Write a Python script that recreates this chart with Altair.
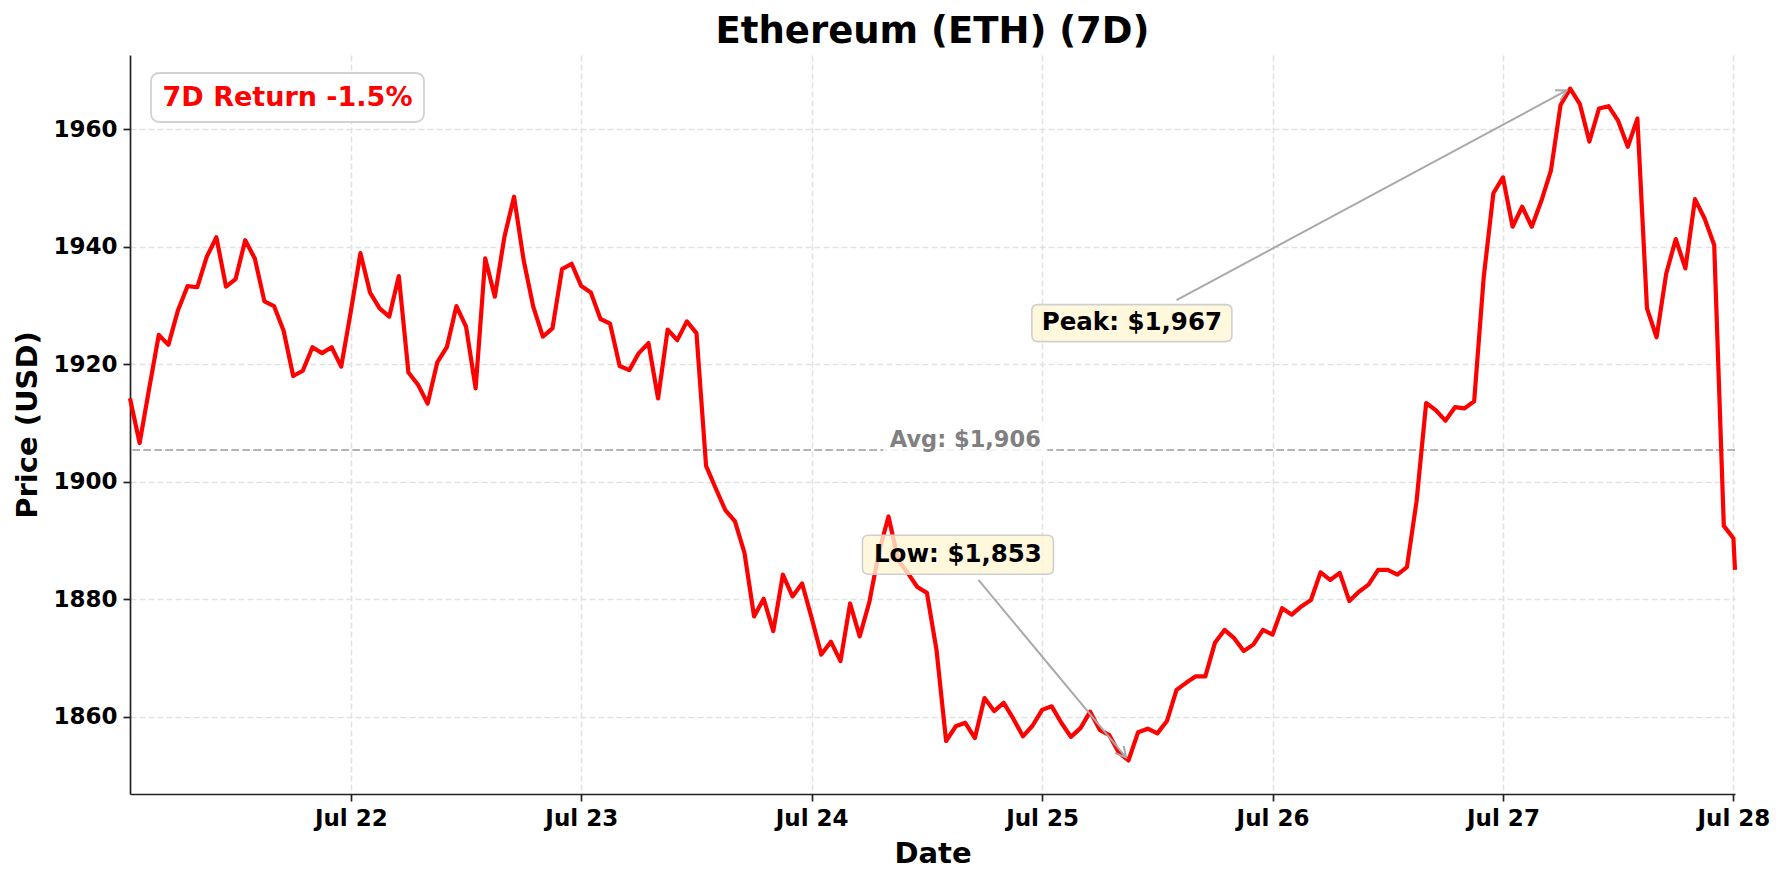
import math
import altair as alt
import pandas as pd

# ---------------- data ----------------
START = "2023-07-21 01:00"
LAST_TIME = "2023-07-28 00:10"
PRICES = [
    1914.2, 1906.6, 1915.9, 1925.0, 1923.3, 1929.2, 1933.3, 1933.1, 1938.3, 1941.6,
    1933.2, 1934.5, 1941.1, 1938.0, 1930.7, 1929.9, 1925.7, 1918.0, 1918.9, 1922.9,
    1921.9, 1922.9, 1919.6, 1929.0, 1938.9, 1932.2, 1929.5, 1928.1, 1935.0, 1918.6,
    1916.5, 1913.3, 1920.3, 1922.9, 1929.9, 1926.4, 1915.9, 1938.0, 1931.5, 1941.7,
    1948.5, 1937.7, 1929.8, 1924.7, 1926.1, 1936.2, 1937.1, 1933.3, 1932.2, 1927.7,
    1926.9, 1919.7, 1919.0, 1921.9, 1923.6, 1914.2, 1925.9, 1924.1, 1927.3, 1925.3,
    1902.7, 1898.9, 1895.2, 1893.3, 1887.9, 1877.1, 1880.1, 1874.6, 1884.2, 1880.5,
    1882.7, 1876.8, 1870.6, 1872.8, 1869.5, 1879.3, 1873.7, 1879.5, 1888.0, 1894.1,
    1886.7, 1884.5, 1882.1, 1881.1, 1871.4, 1855.9, 1858.4, 1859.0, 1856.4, 1863.2,
    1861.0, 1862.4, 1859.7, 1856.7, 1858.5, 1861.2, 1861.8, 1859.0, 1856.6, 1858.1,
    1860.9, 1857.8, 1856.9, 1853.9, 1852.6, 1857.4, 1858.0, 1857.2, 1859.3, 1864.6,
    1865.8, 1866.9, 1866.9, 1872.6, 1874.8, 1873.4, 1871.2, 1872.3, 1874.8, 1874.0,
    1878.5, 1877.4, 1878.8, 1879.9, 1884.6, 1883.3, 1884.5, 1879.7, 1881.3, 1882.5,
    1885.0, 1885.0, 1884.2, 1885.5, 1896.7, 1913.4, 1912.2, 1910.4, 1912.7, 1912.5,
    1913.7, 1934.9, 1949.1, 1951.8, 1943.4, 1946.8, 1943.4, 1947.8, 1953.0, 1964.1,
    1966.9, 1964.3, 1957.9, 1963.5, 1963.9, 1961.4, 1957.0, 1961.8, 1929.5, 1924.6,
    1935.4, 1941.3, 1936.3, 1948.1, 1944.8, 1940.3, 1892.5, 1890.4,
]
LAST_PRICE = 1885.0

TICK_DATES = ["2023-07-22", "2023-07-23", "2023-07-24", "2023-07-25",
              "2023-07-26", "2023-07-27", "2023-07-28"]
Y_TICKS = [1860, 1880, 1900, 1920, 1940, 1960]

TITLE = "Ethereum (ETH) (7D)"
RETURN_LABEL = "7D Return -1.5%"
AVG_LABEL = "Avg: $1,906"
AVG_LABEL_TIME = "2023-07-24 16:00"
ANN_LABELS = ["Peak: $1,967", "Low: $1,853"]
ANN_TEXT_TIME = ["2023-07-25 09:21", "2023-07-24 15:14"]
ANN_TEXT_PRICE = [1927.0, 1887.6]
ANN_START_TIME = ["2023-07-25 14:00", "2023-07-24 17:22"]
ANN_START_PRICE = [1930.9, 1883.3]

# ---------------- layout / style ----------------
W, H = 1605, 739
FONT = "DejaVu Sans"
RED = "#ff0000"
ARROW = "#a9a9a9"

times = list(pd.date_range(START, periods=len(PRICES), freq="h")) + [pd.Timestamp(LAST_TIME)]
vals = PRICES + [LAST_PRICE]
iso = lambda ts: pd.Timestamp(ts).strftime("%Y-%m-%dT%H:%M:%S")
df = pd.DataFrame({"t": [iso(t) for t in times], "p": vals})

avg = sum(vals) / len(vals)
lo, hi = min(vals), max(vals)
pad = (hi - lo) * 0.05
ymin, ymax = lo - pad, hi + pad


def dt(ts):
    ts = pd.Timestamp(ts)
    return alt.DateTime(year=ts.year, month=ts.month, date=ts.day,
                        hours=ts.hour, minutes=ts.minute)


xs = alt.Scale(domain=[dt(times[0]), dt(times[-1])], nice=False)
ys = alt.Scale(domain=[ymin, ymax], nice=False, zero=False)

xaxis = alt.Axis(values=[dt(d) for d in TICK_DATES], format="%b %d", title="Date",
                 labelFont=FONT, labelFontSize=23, labelFontWeight="bold", labelColor="black",
                 titleFont=FONT, titleFontSize=29, titleFontWeight="bold", titleColor="black",
                 titlePadding=9, labelPadding=6, tickSize=7, tickWidth=1.7, tickColor="#222222",
                 domainColor="#222222", domainWidth=1.7, grid=True, gridColor="#e2e2e2",
                 gridDash=[6, 3], gridWidth=1.6, labelFlush=False)
yaxis = alt.Axis(values=Y_TICKS, format="d", title="Price (USD)",
                 labelFont=FONT, labelFontSize=23, labelFontWeight="bold", labelColor="black",
                 titleFont=FONT, titleFontSize=29, titleFontWeight="bold", titleColor="black",
                 titlePadding=10, labelPadding=6, tickSize=7, tickWidth=1.7, tickColor="#222222",
                 domainColor="#222222", domainWidth=1.7, grid=True, gridColor="#e2e2e2",
                 gridDash=[6, 3], gridWidth=1.6)


def X(f):
    return alt.X(f, type="temporal", scale=xs, axis=xaxis)


def Y(f):
    return alt.Y(f, type="quantitative", scale=ys, axis=yaxis)


# pixel helpers (for arrow head orientation only)
T0, T1 = times[0].value, times[-1].value


def to_px(ts, p):
    ts = pd.Timestamp(ts)
    return ((ts.value - T0) / (T1 - T0) * W, (ymax - p) / (ymax - ymin) * H)


def from_px(x, y):
    return pd.Timestamp(int(T0 + x / W * (T1 - T0))), ymax - y / H * (ymax - ymin)


def rrect(w_px, h_px, r_px):
    s = w_px / 2.0
    w, h, r = 1.0, h_px / w_px, r_px / s
    f = lambda v: f"{v:.4f}"
    path = (f"M{f(-w + r)},{f(-h)} L{f(w - r)},{f(-h)} Q{f(w)},{f(-h)} {f(w)},{f(-h + r)} "
            f"L{f(w)},{f(h - r)} Q{f(w)},{f(h)} {f(w - r)},{f(h)} "
            f"L{f(-w + r)},{f(h)} Q{f(-w)},{f(h)} {f(-w)},{f(h - r)} "
            f"L{f(-w)},{f(-h + r)} Q{f(-w)},{f(-h)} {f(-w + r)},{f(-h)} Z")
    return path, w_px * w_px


# ---------------- annotations ----------------
imax = max(range(len(vals)), key=lambda i: vals[i])
imin = min(range(len(vals)), key=lambda i: vals[i])
targets = [(times[imax], vals[imax]), (times[imin], vals[imin])]
arrows = []
for k in range(2):
    sx, sy = to_px(ANN_START_TIME[k], ANN_START_PRICE[k])
    tx, ty = to_px(*targets[k])
    dx, dy = tx - sx, ty - sy
    L = math.hypot(dx, dy)
    ux, uy = dx / L, dy / L
    tipx, tipy = tx - ux * 4, ty - uy * 4
    tip_t, tip_p = from_px(tipx, tipy)
    ang = math.degrees(math.atan2(dy, dx)) % 360
    arrows.append({"t0": iso(ANN_START_TIME[k]), "p0": ANN_START_PRICE[k],
                   "t1": iso(tip_t), "p1": tip_p, "ang": ang})
arr_df = pd.DataFrame(arrows)
ann_df = pd.DataFrame({"t": [iso(t) for t in ANN_TEXT_TIME], "p": ANN_TEXT_PRICE,
                       "label": ANN_LABELS})

line = alt.Chart(df).mark_line(color=RED, strokeWidth=4.2, strokeJoin="round").encode(
    x=X("t"), y=Y("p"))

avg_rule = alt.Chart(pd.DataFrame({"p": [avg]})).mark_rule(
    color="#b4b4b4", strokeWidth=2, strokeDash=[7.7, 3.3]).encode(y=Y("p"))

avg_path, avg_size = rrect(164, 34, 4)
avg_df = pd.DataFrame({"t": [iso(AVG_LABEL_TIME)], "p": [avg], "label": [AVG_LABEL]})
avg_box = alt.Chart(avg_df).mark_point(
    shape=avg_path, size=avg_size, filled=True, fill="white", fillOpacity=0.85,
    strokeWidth=0, opacity=1, yOffset=-10).encode(x=X("t"), y=Y("p"))
avg_text = alt.Chart(avg_df).mark_text(
    font=FONT, fontSize=22.5, fontWeight="bold", color="#808080", align="center",
    baseline="alphabetic", dy=-3.5).encode(x=X("t"), y=Y("p"), text="label:N")

arrow_line = alt.Chart(arr_df).mark_rule(color=ARROW, strokeWidth=2).encode(
    x=X("t0"), y=Y("p0"), x2="t1:T", y2="p1:Q")
chev = "M-1,-0.55 L0,0 L-1,0.55"
arrow_head = alt.Chart(arr_df).mark_point(
    shape=chev, size=420, filled=False, strokeWidth=2, opacity=1, color=ARROW).encode(
    x=X("t1"), y=Y("p1"), angle=alt.Angle("ang:Q", scale=None))

box_layers = []
for k, (bw, bh) in enumerate([(200, 37), (191, 39)]):
    pth, sz = rrect(bw, bh, 6)
    box_layers.append(alt.Chart(ann_df.iloc[[k]]).mark_point(
        shape=pth, size=sz, filled=True, fill="#fff6d5", fillOpacity=0.8,
        stroke="#cfcfcf", strokeWidth=1.6, opacity=1).encode(x=X("t"), y=Y("p")))
ann_text = alt.Chart(ann_df).mark_text(
    font=FONT, fontSize=24.5, fontWeight="bold", color="black", align="center",
    baseline="middle").encode(x=X("t"), y=Y("p"), text="label:N")

one = pd.DataFrame({"label": [RETURN_LABEL]})
ret_path, ret_size = rrect(273, 49, 9)
ret_box = alt.Chart(one).mark_point(
    shape=ret_path, size=ret_size, filled=True, fill="white", fillOpacity=0.9,
    stroke="#d2d2d2", strokeWidth=1.8, opacity=1).encode(
    x=alt.value(157.5), y=alt.value(42.5))
ret_text = alt.Chart(one).mark_text(
    font=FONT, fontSize=27, fontWeight="bold", color=RED, align="center",
    baseline="middle").encode(x=alt.value(157.5), y=alt.value(42.5), text="label:N")

chart = alt.layer(
    avg_rule, line, avg_box, avg_text, arrow_line, arrow_head, *box_layers, ann_text,
    ret_box, ret_text
).properties(
    width=W, height=H, background="white",
    title=alt.TitleParams(text=TITLE, font=FONT, fontSize=37, fontWeight="bold",
                          color="black", anchor="middle", offset=4),
    autosize=alt.AutoSizeParams(type="none"),
    padding={"left": 130, "top": 55, "right": 49, "bottom": 90},
).configure_view(strokeWidth=0)

chart.save("out.html", embed_options={"renderer": "svg", "actions": False})
